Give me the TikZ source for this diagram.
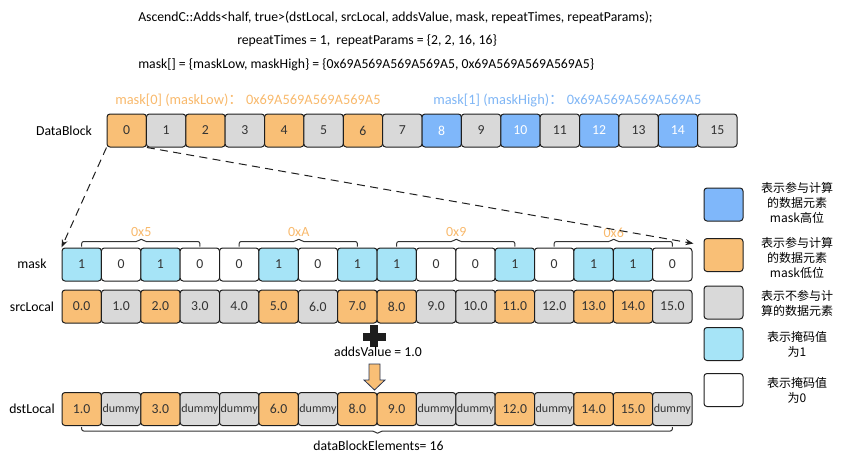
\documentclass[tikz,border=0pt]{standalone}
\usepackage{fontspec}
\setmainfont{Carlito}
\newfontfamily\cjk{Noto Sans CJK SC}
\usetikzlibrary{arrows.meta,calc}
\definecolor{cOr}{HTML}{F9BF76}
\definecolor{cGr}{HTML}{D9D9D9}
\definecolor{cBl}{HTML}{7FB7FA}
\definecolor{cCy}{HTML}{A6E4F7}
\definecolor{cLine}{HTML}{1E1E1E}
\definecolor{cTxt}{HTML}{333333}
\definecolor{cOrT}{HTML}{F8B96C}
\definecolor{cBlT}{HTML}{80B6F5}
\definecolor{cNavy}{HTML}{2A3550}
\begin{document}
\begin{tikzpicture}[x=0.75pt,y=-0.75pt,
  cell/.style={draw=cLine, line width=0.75pt, rounded corners=2.25pt,
    minimum width=29.53pt, minimum height=24.75pt, inner sep=0pt,
    text=cTxt, font=\fontsize{10.3}{12}\selectfont},
  or/.style={cell, fill=cOr},
  gr/.style={cell, fill=cGr},
  bl/.style={cell, fill=cBl, text=white},
  cy/.style={cell, fill=cCy},
  wh/.style={cell, fill=white},
  dm/.style={cell, fill=cGr, font=\fontsize{9}{11}\selectfont},
  txt/.style={inner sep=0pt, text=black, font=\fontsize{10.3}{12}\selectfont},
  lbltxt/.style={inner sep=0pt, font=\fontsize{10.8}{12}\selectfont},
  hexlbl/.style={inner sep=0pt, text=cOrT, font=\fontsize{10.5}{12}\selectfont},
  brace/.style={draw=cTxt, line width=0.75pt, rounded corners=1.5pt},
  dashline/.style={draw=cLine, line width=0.75pt, dash pattern=on 6pt off 4pt, -{Stealth[length=6pt,width=4.5pt]}},
  lgtxt/.style={inner sep=0pt, align=center, text=black, font=\cjk\fontsize{9}{11.25}\selectfont}
]
\useasboundingbox (0,0) rectangle (842,457);

% header text
\node[txt, anchor=west] (h1) at (138,18) {AscendC::Adds<half, true>(dstLocal, srcLocal, addsValue, mask, repeatTimes, repeatParams);};
\node[txt, anchor=west] (h2) at (237,41) {repeatTimes = 1,\ \ repeatParams = \{2, 2, 16, 16\}};
\node[txt, anchor=west] (h3) at (138,65) {mask[] = \{maskLow, maskHigh\} = \{0x69A569A569A569A5, 0x69A569A569A569A5\}};

\node[lbltxt, text=cOrT, anchor=west] (lbl0) at (115,100) {mask[0] (maskLow){\cjk ：} 0x69A569A569A569A5};
\node[lbltxt, text=cBlT, anchor=west] (lbl1) at (433,100) {mask[1] (maskHigh){\cjk ：} 0x69A569A569A569A5};

% row labels
\node[txt] (lDB) at (64,131) {DataBlock};
\node[txt] (lM) at (32,264) {mask};
\node[txt] (lS) at (32,307) {srcLocal};
\node[txt] (lD) at (32,409) {dstLocal};

% DataBlock row
\foreach \i/\s in {0/or,1/gr,2/or,3/gr,4/or,5/gr,6/or,7/gr,8/bl,9/gr,10/bl,11/gr,12/bl,13/gr,14/bl,15/gr}
  \node[\s] (db\i) at ({107+39.375*(\i+0.5)},130.5) {\i};

% mask row
\foreach \i/\v/\s in {0/1/cy,1/0/wh,2/1/cy,3/0/wh,4/0/wh,5/1/cy,6/0/wh,7/1/cy,8/1/cy,9/0/wh,10/0/wh,11/1/cy,12/0/wh,13/1/cy,14/1/cy,15/0/wh}
  \node[\s] (m\i) at ({62+39.375*(\i+0.5)},264.5) {\v};

% srcLocal row
\foreach \i/\v/\s in {0/0.0/or,1/1.0/gr,2/2.0/or,3/3.0/gr,4/4.0/gr,5/5.0/or,6/6.0/gr,7/7.0/or,8/8.0/or,9/9.0/gr,10/10.0/gr,11/11.0/or,12/12.0/gr,13/13.0/or,14/14.0/or,15/15.0/gr}
  \node[\s] (s\i) at ({62+39.375*(\i+0.5)},306.5) {\v};

% dstLocal row
\foreach \i/\v/\s in {0/1.0/or,1/dummy/dm,2/3.0/or,3/dummy/dm,4/dummy/dm,5/6.0/or,6/dummy/dm,7/8.0/or,8/9.0/or,9/dummy/dm,10/dummy/dm,11/12.0/or,12/dummy/dm,13/14.0/or,14/15.0/or,15/dummy/dm}
  \node[\s] (d\i) at ({62+39.375*(\i+0.5)},409) {\v};

% hex braces above mask
\foreach \k/\h in {0/0x5,1/0xA,2/0x9,3/0x6}{
  \pgfmathtruncatemacro\ka{4*\k}
  \pgfmathtruncatemacro\kb{4*\k+1}
  \pgfmathtruncatemacro\kc{4*\k+3}
  \draw[brace] ($(m\ka.north)+(0,-1)$) -- ($(m\ka.north)+(0,-6)$) -- ($(m\kb.north east)+(-3,-6)$) -- ($(m\kb.north east)+(0,-9)$) -- ($(m\kb.north east)+(3,-6)$) -- ($(m\kc.north)+(0,-6)$) -- ($(m\kc.north)+(0,-1)$);
  \node[hexlbl] (hx\k) at ($(m\kb.north east)+(0,-15)$) {\h};
}

% bottom brace
\draw[brace] ($(d0.south)+(0,1)$) -- ($(d0.south)+(0,5)$) -- ($(d7.south east)+(-3,5)$) -- ($(d7.south east)+(0,8)$) -- ($(d7.south east)+(3,5)$) -- ($(d15.south)+(0,5)$) -- ($(d15.south)+(0,1)$);
\node[txt] (dbe) at ($(d7.south east)+(1,20)$) {dataBlockElements= 16};

% dashed expansion arrows
\draw[dashline] (db0.south west) -- (m0.north west);
\draw[dashline] (db0.south east) -- ($(m15.north east)+(1,-4)$);

% plus sign
\fill[cLine] (363,332.5) rectangle (386,340.5);
\fill[cLine] (370,325) rectangle (378,347);
\node[txt] (addv) at (378,352) {addsValue = 1.0};

% down arrow
\draw[fill=cOr, draw=cNavy, line width=0.6pt] (369,364) -- (380,364) -- (380,380) -- (385,380) -- (374.5,390) -- (364,380) -- (369,380) -- cycle;

% legend
\node[cell, fill=cBl, minimum width=29.25pt] (lg1) at (723.5,204.5) {};
\node[cell, fill=cOr, minimum width=29.25pt] (lg2) at (723.5,255) {};
\node[cell, fill=cGr, minimum width=29.25pt] (lg3) at (723.5,302.5) {};
\node[cell, fill=cCy, minimum width=29.25pt] (lg4) at (723.5,344) {};
\node[cell, fill=white, minimum width=29.25pt] (lg5) at (723.5,390) {};
\node[lgtxt] (lt1) at (797,203) {表示参与计算\\的数据元素\\mask高位};
\node[lgtxt] (lt2) at (797,258) {表示参与计算\\的数据元素\\mask低位};
\node[lgtxt] (lt3) at (797,303) {表示不参与计\\算的数据元素};
\node[lgtxt] (lt4) at (797,344) {表示掩码值\\为1};
\node[lgtxt] (lt5) at (797,390) {表示掩码值\\为0};
\end{tikzpicture}
\end{document}
